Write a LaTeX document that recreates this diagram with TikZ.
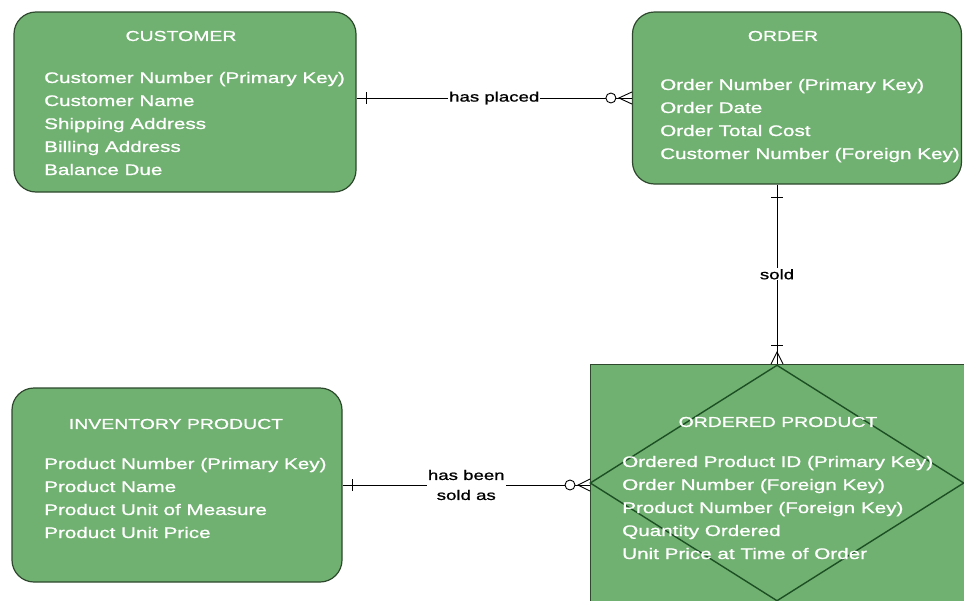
\documentclass[tikz,border=0pt]{standalone}
\usepackage{fontspec}
\setmainfont[FakeStretch=1.35, FakeBold=1]{Liberation Sans}
\usetikzlibrary{shapes.geometric, calc}
\definecolor{entityG}{RGB}{112,176,112}
\definecolor{entityLine}{RGB}{45,72,45}
\definecolor{diamondLine}{RGB}{28,80,36}
\tikzstyle{entity}=[rectangle, rounded corners=22pt, fill=entityG, draw=entityLine, line width=1.2pt]
\tikzstyle{heading}=[text=white, font=\fontsize{14.4}{17}\selectfont]
\tikzstyle{attr}=[text=white, anchor=west, inner sep=0pt, text height=11pt, text depth=3pt, font=\fontsize{15.3}{18}\selectfont]
\tikzstyle{link}=[draw=black, line width=0.9pt]
\tikzstyle{rel}=[fill=white, inner sep=1pt, font=\fontsize{13.8}{20}\selectfont]

\begin{document}
\begin{tikzpicture}[x=1pt, y=-1pt]
			\useasboundingbox (0,0) rectangle (964,600);
			\clip (0,0) rectangle (964,600);

			% Entity boxes
			\node[entity, minimum width=342pt, minimum height=180pt] (customer) at (185,102) {};
			\node[entity, minimum width=329pt, minimum height=172pt] (order) at (797,98) {};
			\node[entity, minimum width=330pt, minimum height=194pt] (inventory) at (177,485) {};
			\node[rectangle, fill=entityG, draw=entityLine, line width=1.2pt, minimum width=400pt, minimum height=260pt, anchor=north west] (ordered) at (590,364) {};
			\node[diamond, draw=diamondLine, line width=1.4pt, inner sep=0pt, minimum width=374pt, minimum height=236pt] (orderedDiamond) at (777,483) {};

			% Titles
			\node[heading] (customer-title) at (181,36) {CUSTOMER};
			\node[heading] (order-title) at (783,36) {ORDER};
			\node[heading] (inventory-title) at (176,424) {INVENTORY PRODUCT};
			\node[heading] (ordered-title) at (778,422) {ORDERED PRODUCT};

			% Attributes
			\foreach \t [count=\i] in {Customer Number (Primary Key), Customer Name, Shipping Address, Billing Address, Balance Due}{
				\node[attr] (customer-\i) at (44, 56+23*\i) {\t};
			}
			\foreach \t [count=\i] in {Order Number (Primary Key), Order Date, Order Total Cost, Customer Number (Foreign Key)}{
				\node[attr] (order-\i) at (660, 63+23*\i) {\t};
			}
			\foreach \t [count=\i] in {Product Number (Primary Key), Product Name, Product Unit of Measure, Product Unit Price}{
				\node[attr] (inventory-\i) at (44, 442+23*\i) {\t};
			}
			\foreach \t [count=\i] in {Ordered Product ID (Primary Key), Order Number (Foreign Key), Product Number (Foreign Key), Quantity Ordered, Unit Price at Time of Order}{
				\node[attr] (ordered-\i) at (622, 440+23*\i) {\t};
			}

			% has placed
			\draw[link] (customer.east |- order.west) -- node[rel] {has placed} (order.west);
			\draw[link] ($(customer.east |- order.west)+(10,-6)$) -- ++(0,12);
			\filldraw[link, fill=white] ($(order.west)+(-21,0)$) circle[radius=5pt];
			\draw[link] ($(order.west)+(0,-6)$) -- ($(order.west)+(-13,0)$) -- ($(order.west)+(0,6)$);

			% sold
			\coordinate (soldEnd) at (ordered.north -| orderedDiamond.north);
			\draw[link] (order.south -| orderedDiamond.north) -- node[rel] {sold} (soldEnd);
			\draw[link] ($(order.south -| orderedDiamond.north)+(-6,13)$) -- ++(12,0);
			\draw[link] ($(soldEnd)+(-6,-19)$) -- ++(12,0);
			\draw[link] ($(soldEnd)+(-6,0)$) -- ($(soldEnd)+(0,-12)$) -- ($(soldEnd)+(6,0)$);

			% has been sold as
			\coordinate (soldAsEnd) at (inventory.east -| ordered.west);
			\draw[link] (inventory.east) -- node[rel, align=center] {has been\\sold as} (soldAsEnd);
			\draw[link] ($(inventory.east)+(10,-6)$) -- ++(0,12);
			\filldraw[link, fill=white] ($(soldAsEnd)+(-20,0)$) circle[radius=5pt];
			\draw[link] ($(soldAsEnd)+(0,-6)$) -- ($(soldAsEnd)+(-12,0)$) -- ($(soldAsEnd)+(0,6)$);
		\end{tikzpicture}
\end{document}
